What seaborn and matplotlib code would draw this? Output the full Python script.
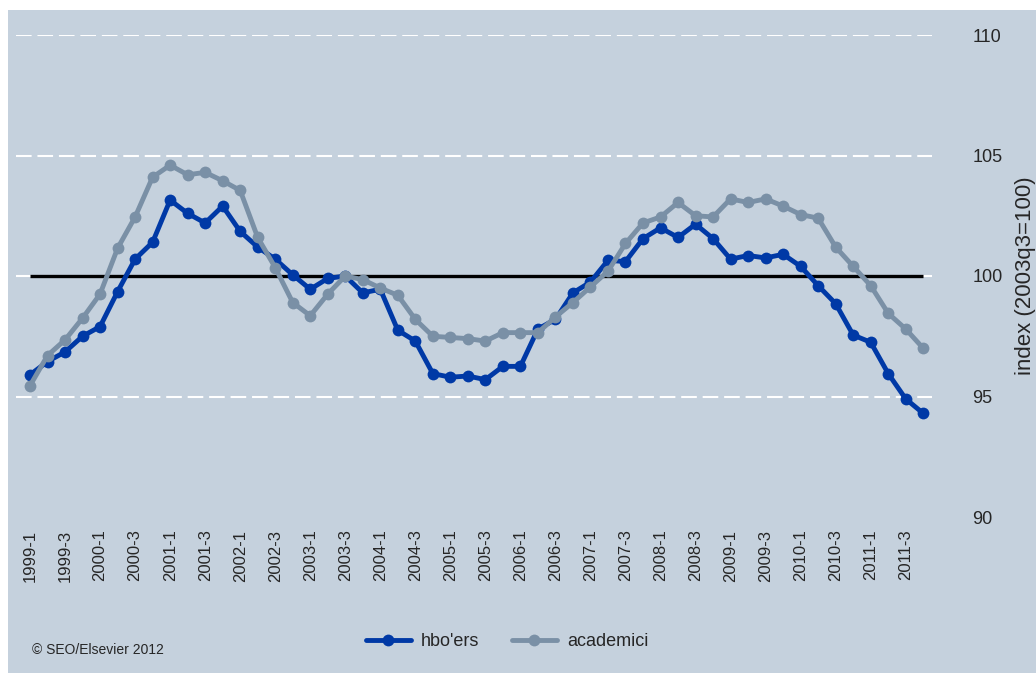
import numpy as np
import pandas as pd
import matplotlib
matplotlib.use("Agg")
import matplotlib.pyplot as plt
from matplotlib.lines import Line2D
from matplotlib.patches import Rectangle
import seaborn as sns

# kwartalen 1999-1 t/m 2011-4
quarters = [f"{y}-{q}" for y in range(1999, 2012) for q in range(1, 5)]

hbo_ers = [95.9, 96.45, 96.85, 97.5, 97.9, 99.35, 100.7, 101.4, 103.15, 102.6,
           102.2, 102.9, 101.85, 101.2, 100.7, 100.05, 99.45, 99.9, 100.0, 99.3,
           99.45, 97.75, 97.3, 95.95, 95.8, 95.85, 95.7, 96.25, 96.25, 97.8,
           98.2, 99.3, 99.75, 100.65, 100.6, 101.55, 102.0, 101.6, 102.15, 101.55,
           100.7, 100.85, 100.75, 100.9, 100.4, 99.6, 98.85, 97.55, 97.25, 95.95,
           94.9, 94.3]

academici = [95.45, 96.7, 97.35, 98.25, 99.25, 101.15, 102.45, 104.1, 104.6, 104.2,
             104.3, 103.95, 103.55, 101.6, 100.35, 98.9, 98.35, 99.25, 100.0, 99.85,
             99.5, 99.2, 98.2, 97.5, 97.45, 97.4, 97.3, 97.65, 97.65, 97.65,
             98.3, 98.9, 99.55, 100.2, 101.35, 102.2, 102.45, 103.05, 102.5, 102.45,
             103.2, 103.05, 103.2, 102.9, 102.55, 102.4, 101.2, 100.4, 99.6, 98.45,
             97.8, 97.0]

series_names = ["hbo'ers", "academici"]
series_colors = ["#0039A6", "#7A90A6"]
y_ticks = [90, 95, 100, 105, 110]

bg = "#C5D1DD"

n = len(quarters)
df = pd.DataFrame({
    "idx": list(range(n)) * 2,
    "waarde": hbo_ers + academici,
    "reeks": [series_names[0]] * n + [series_names[1]] * n,
})

sns.set_style("white")
plt.rcParams["font.family"] = ["Liberation Sans", "DejaVu Sans"]

fig = plt.figure(figsize=(10.36, 6.73), dpi=100, facecolor="white")
fig.patches.append(Rectangle((8 / 1036, 0), 1, 1 - 10 / 673, transform=fig.transFigure,
                             facecolor=bg, edgecolor="none", zorder=-10))

ax = fig.add_axes([16 / 1036, 1 - 517 / 673, (932 - 16) / 1036, (517 - 35) / 673])
ax.set_facecolor(bg)

# witte stippellijnen
for yv in y_ticks[1:]:
    ax.axhline(yv, color="white", lw=1.5, dashes=(7.5, 2.8), zorder=0)
ax.plot([0, n - 1], [100, 100], color="black", lw=2.4, zorder=1, solid_capstyle="butt")

sns.lineplot(data=df, x="idx", y="waarde", hue="reeks", hue_order=series_names,
             palette=series_colors, marker="o", markersize=8.5, markeredgewidth=0,
             linewidth=3.5, legend=False, ax=ax, zorder=3)

ax.set_xlim(-0.8, n - 1 + 0.5)
ax.set_ylim(90, 110)
for s in ax.spines.values():
    s.set_visible(False)

ax.set_xticks(range(0, n, 2))
ax.set_xticklabels(quarters[::2], rotation=90, fontsize=12)
ax.yaxis.tick_right()
ax.yaxis.set_label_position("right")
ax.set_yticks(y_ticks)
ax.set_yticklabels([str(v) for v in y_ticks], fontsize=13)
ax.tick_params(axis="x", length=0, pad=9)
ax.tick_params(axis="y", length=0, pad=29)
ax.set_xlabel("")
ax.set_ylabel("index (2003q3=100)", fontsize=16, labelpad=9)

handles = [Line2D([], [], color=c, lw=3.5, marker="o", markersize=8.5, markeredgewidth=0)
           for c in series_colors]
fig.legend(handles, series_names, loc="center", bbox_to_anchor=(507 / 1036, 1 - 642 / 673),
           ncol=2, frameon=False, fontsize=13, handlelength=2.5, handletextpad=0.55,
           columnspacing=1.8)

fig.text(32 / 1036, 1 - 650 / 673, "© SEO/Elsevier 2012", fontsize=10, va="center", ha="left")

fig.savefig("out.png", dpi=100, facecolor="white")
